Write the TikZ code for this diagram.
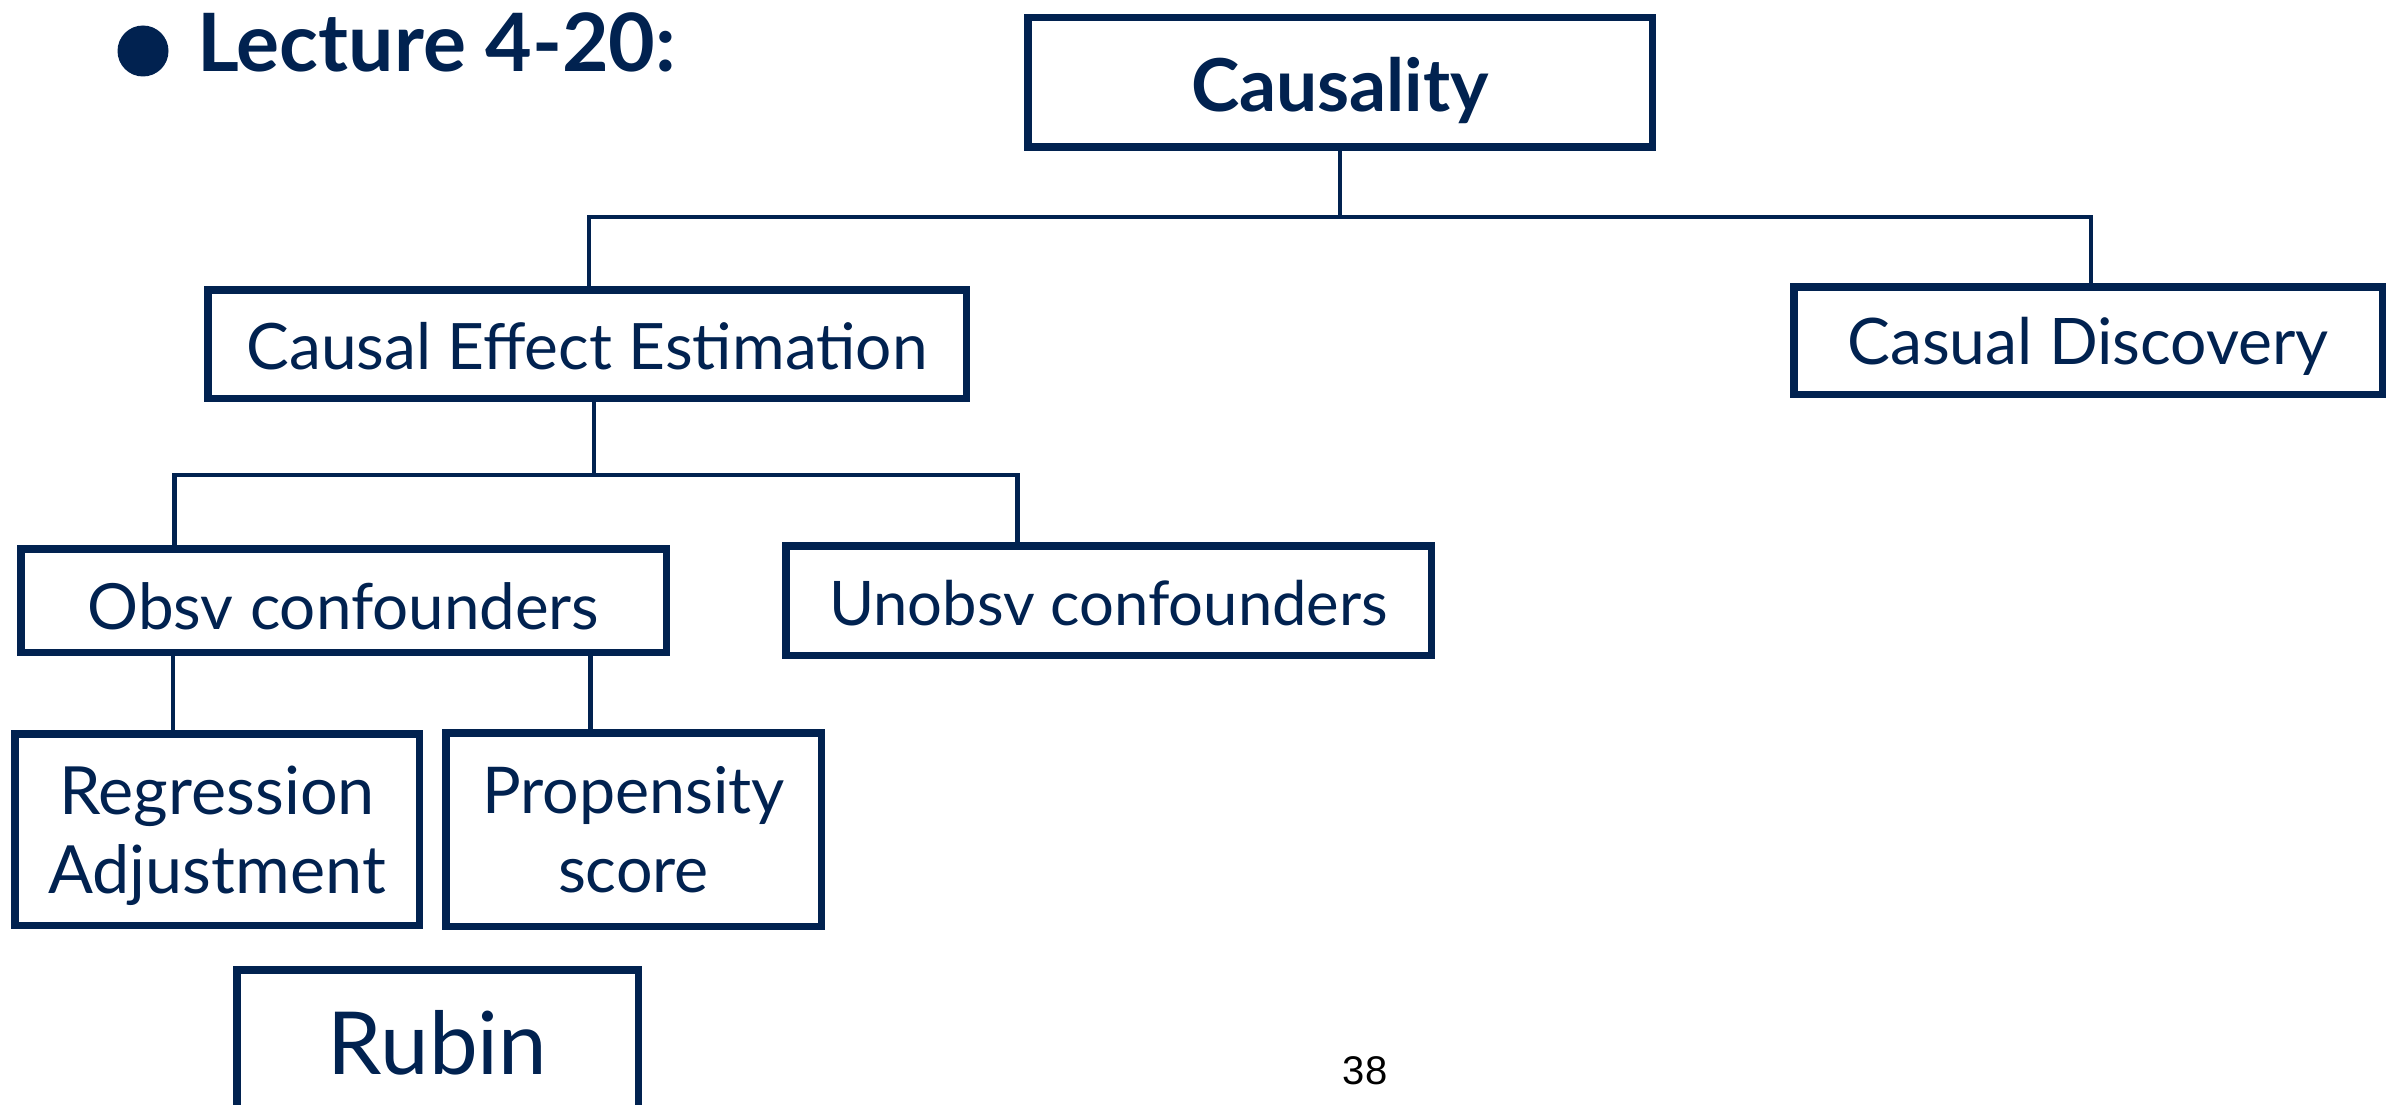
\documentclass[tikz,border=0pt]{standalone}
\usepackage{fontspec}
\setmainfont{Lato}
\newfontfamily\numfont{Liberation Sans}
\usepackage[HTML]{xcolor}
\definecolor{navy}{HTML}{012250}
\usetikzlibrary{calc}

\begin{document}
\begin{tikzpicture}[x=1pt, y=-1pt,
  box/.style={draw=navy, line width=7.5pt, inner sep=0pt, text=navy, font=\fontsize{65}{79}\selectfont},
  fs/.style={font=\fontsize{#1}{79}\selectfont},
  link/.style={draw=navy, line width=4.5pt},
  bl/.style={text height=#1, text depth=0pt}]
\useasboundingbox[fill=white] (0,0) rectangle (2388,1105);
% heading
\node[circle, fill=navy, minimum size=51pt, inner sep=0pt] (dot) at (143,51) {};
\node[anchor=base west, inner sep=0pt, text=navy, font=\bfseries\fontsize{80.5}{90}\selectfont] (title) at (197,71.7) {Lecture 4-20:};
% boxes
\node[box, font=\bfseries\fontsize{73}{85}\selectfont, minimum width=624.5pt, minimum height=129.5pt, bl=58.4pt] (cau) at (1340,82.5) {Causality};
\node[box, fs=64, minimum width=758.5pt, minimum height=108.5pt, bl=50.6pt] (cee) at (587,344) {Causal Effect Estimation};
\node[box, fs=64.2, minimum width=588.5pt, minimum height=107.5pt, bl=47pt] (cd) at (2088,340.5) {Casual Discovery};
\node[box, fs=63.7, minimum width=645.5pt, minimum height=103.5pt, bl=57.6pt] (obsv) at (343.5,600.5) {Obsv confounders};
\node[box, fs=61.5, minimum width=645.5pt, minimum height=109.5pt, bl=49pt] (unobsv) at (1108.5,600.5) {Unobsv confounders};
\node[box, fs=66.5, align=center, text depth=0pt, minimum width=404.5pt, minimum height=191.5pt] (reg) at (217,829.5) {Regression\\Adjustment};
\node[box, fs=64.5, align=center, text depth=0pt, minimum width=375.5pt, minimum height=193.5pt] (prop) at (633.5,829.5) {Propensity\\score};
\node[box, font=\fontsize{87}{100}\selectfont, minimum width=401.5pt, minimum height=146.5pt, bl=62.6pt] (rubin) at (437.5,1043) {Rubin};
% tree lines
\coordinate (bus1) at (0,217);
\coordinate (bus2) at (0,475);
\draw[link] (cau.south) -- (cau.south |- bus1);
\draw[link] ([xshift=2pt]cee.north) |- ([xshift=3pt]cd.north |- bus1) -- ([xshift=3pt]cd.north);
\draw[link] ([xshift=7pt]cee.south) -- ([xshift=7pt]cee.south |- bus2);
\draw[link] ([xshift=-169pt]obsv.north) |- ([xshift=-91pt]unobsv.north |- bus2) -- ([xshift=-91pt]unobsv.north);
\draw[link] ([xshift=-44pt]reg.north) -- ([xshift=-44pt]reg.north |- obsv.south);
\draw[link] ([xshift=-43pt]prop.north) -- ([xshift=-43pt]prop.north |- obsv.south);
\node[anchor=base, inner sep=0pt, font=\numfont\fontsize{40}{48}\selectfont] (pnum) at (1365,1084) {38};
\end{tikzpicture}
\end{document}
